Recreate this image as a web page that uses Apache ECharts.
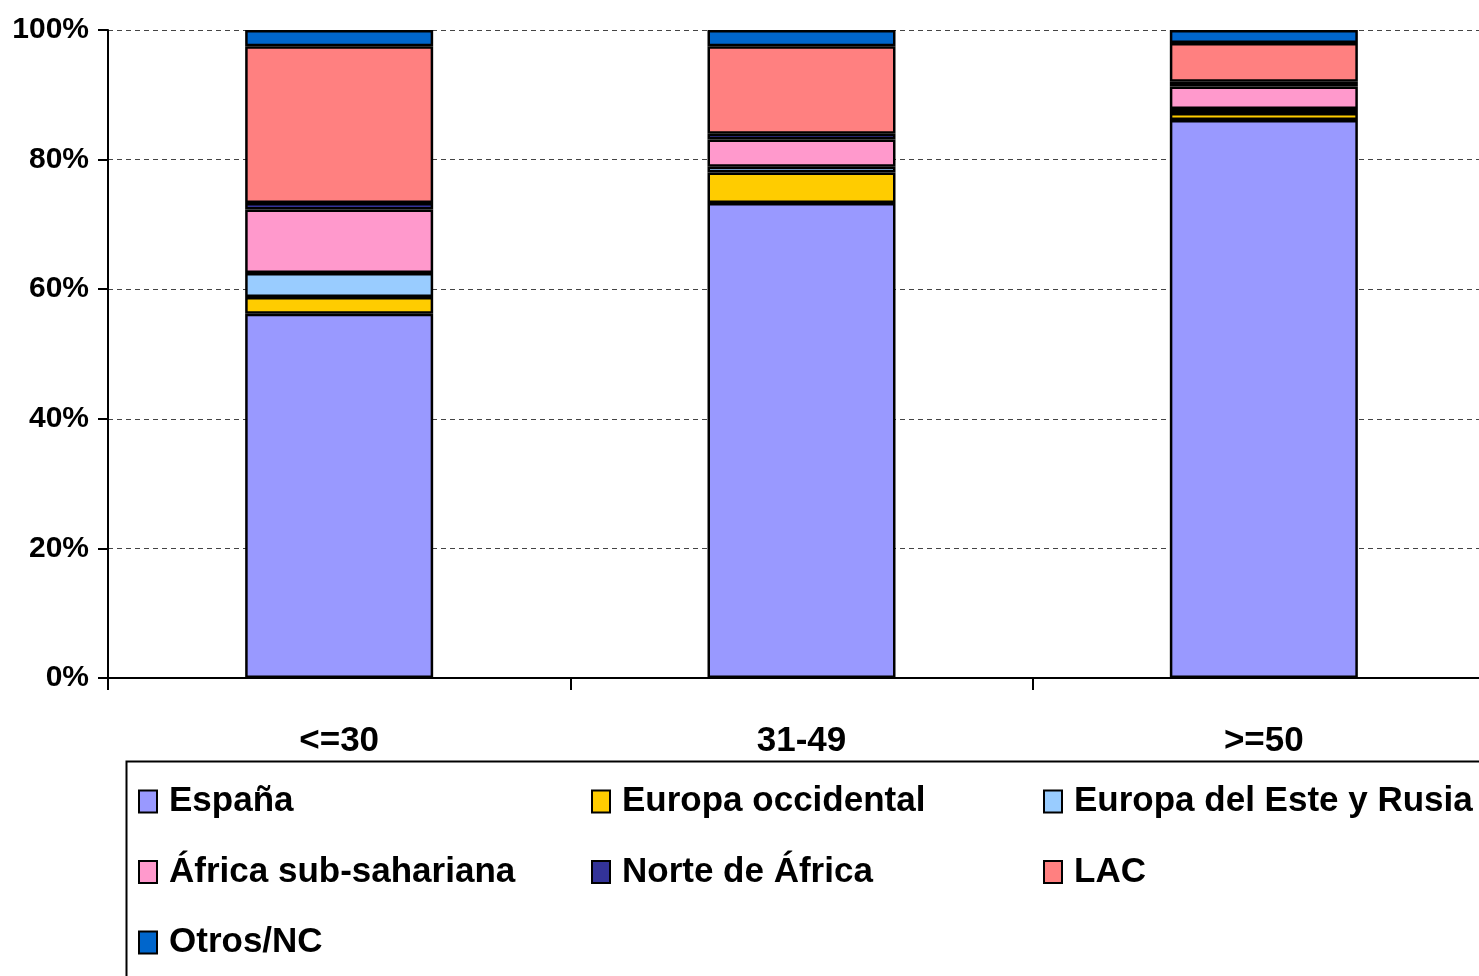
<!DOCTYPE html>
<html>
<head>
<meta charset="utf-8">
<script src="https://cdn.jsdelivr.net/npm/echarts@6/dist/echarts.min.js"></script>
<style>
  html, body { margin: 0; padding: 0; background: #fff; overflow: hidden; }
  /* plot runs past the right edge in the original, so the canvas is a bit wider than the window */
  #chart { width: 1495px; height: 976px; }
</style>
</head>
<body>
<div id="chart"></div>
<script>
// age groups
const categories = ['<=30', '31-49', '>=50'];
const yTicks = [0, 20, 40, 60, 80, 100];

// share of each origin (%) per age group
const espana = [56.2, 73.3, 86.1];
const europaOcc = [2.6, 4.7, 1.1];
const europaEste = [3.7, 0.9, 0.6];
const africaSub = [9.8, 4.2, 3.5];
const norteAfrica = [1.0, 0.9, 0.7];
const lac = [24.2, 13.5, 6.0];
const otros = [2.5, 2.5, 2.0];

const seriesNames = ['España', 'Europa occidental', 'Europa del Este y Rusia',
  'África sub-sahariana', 'Norte de África', 'LAC', 'Otros/NC'];
const seriesData = [espana, europaOcc, europaEste, africaSub, norteAfrica, lac, otros];
const colors = ['#9999FF', '#FFCC00', '#99CCFF', '#FF99CC', '#333399', '#FF8080', '#0066CC'];

const font = '"Liberation Sans", Arial, sans-serif';

let myChart = echarts.init(document.getElementById('chart'));

let legendBase = {
  orient: 'vertical',
  top: 784,
  height: 190,
  padding: 0,
  itemWidth: 18,
  itemHeight: 22,
  itemGap: 35.5,
  icon: 'rect',
  textStyle: {fontFamily: font, fontWeight: 'bold', fontSize: 35, color: '#000', padding: [0, 0, 0, 7]},
  selectedMode: false
};

let option = {
  animation: false,
  grid: {left: 108, top: 30, right: 0, bottom: 298},
  legend: [
    Object.assign({}, legendBase, {left: 138, data: ['España', 'África sub-sahariana', 'Otros/NC']}),
    Object.assign({}, legendBase, {left: 591, data: ['Europa occidental', 'Norte de África']}),
    Object.assign({}, legendBase, {left: 1043, data: ['Europa del Este y Rusia', 'LAC']})
  ],
  graphic: [{
    type: 'rect',
    left: 124, top: 759,
    shape: {width: 1400, height: 300},
    style: {fill: 'none', stroke: '#000', lineWidth: 2},
    silent: true
  }],
  xAxis: {
    type: 'category',
    data: categories,
    axisLine: {lineStyle: {color: '#000', width: 2}},
    axisTick: {show: true, length: 12, lineStyle: {color: '#000', width: 2}},
    axisLabel: {fontFamily: font, fontWeight: 'bold', fontSize: 35, color: '#000', margin: 46}
  },
  yAxis: {
    type: 'value',
    min: yTicks[0],
    max: yTicks[yTicks.length - 1],
    interval: 20,
    axisLine: {show: true, lineStyle: {color: '#000', width: 2}},
    axisTick: {show: true, length: 10, lineStyle: {color: '#000', width: 2}},
    axisLabel: {formatter: '{value}%', fontFamily: font, fontWeight: 'bold', fontSize: 30, color: '#000', margin: 19},
    splitLine: {lineStyle: {color: '#444', type: [5, 4], width: 1}}
  },
  series: seriesNames.map((name, i) => ({
    name: name,
    type: 'bar',
    stack: 'total',
    barWidth: 188,
    data: seriesData[i],
    itemStyle: {color: colors[i], borderColor: '#000', borderWidth: 2.5}
  }))
};

myChart.setOption(option);
</script>
</body>
</html>
